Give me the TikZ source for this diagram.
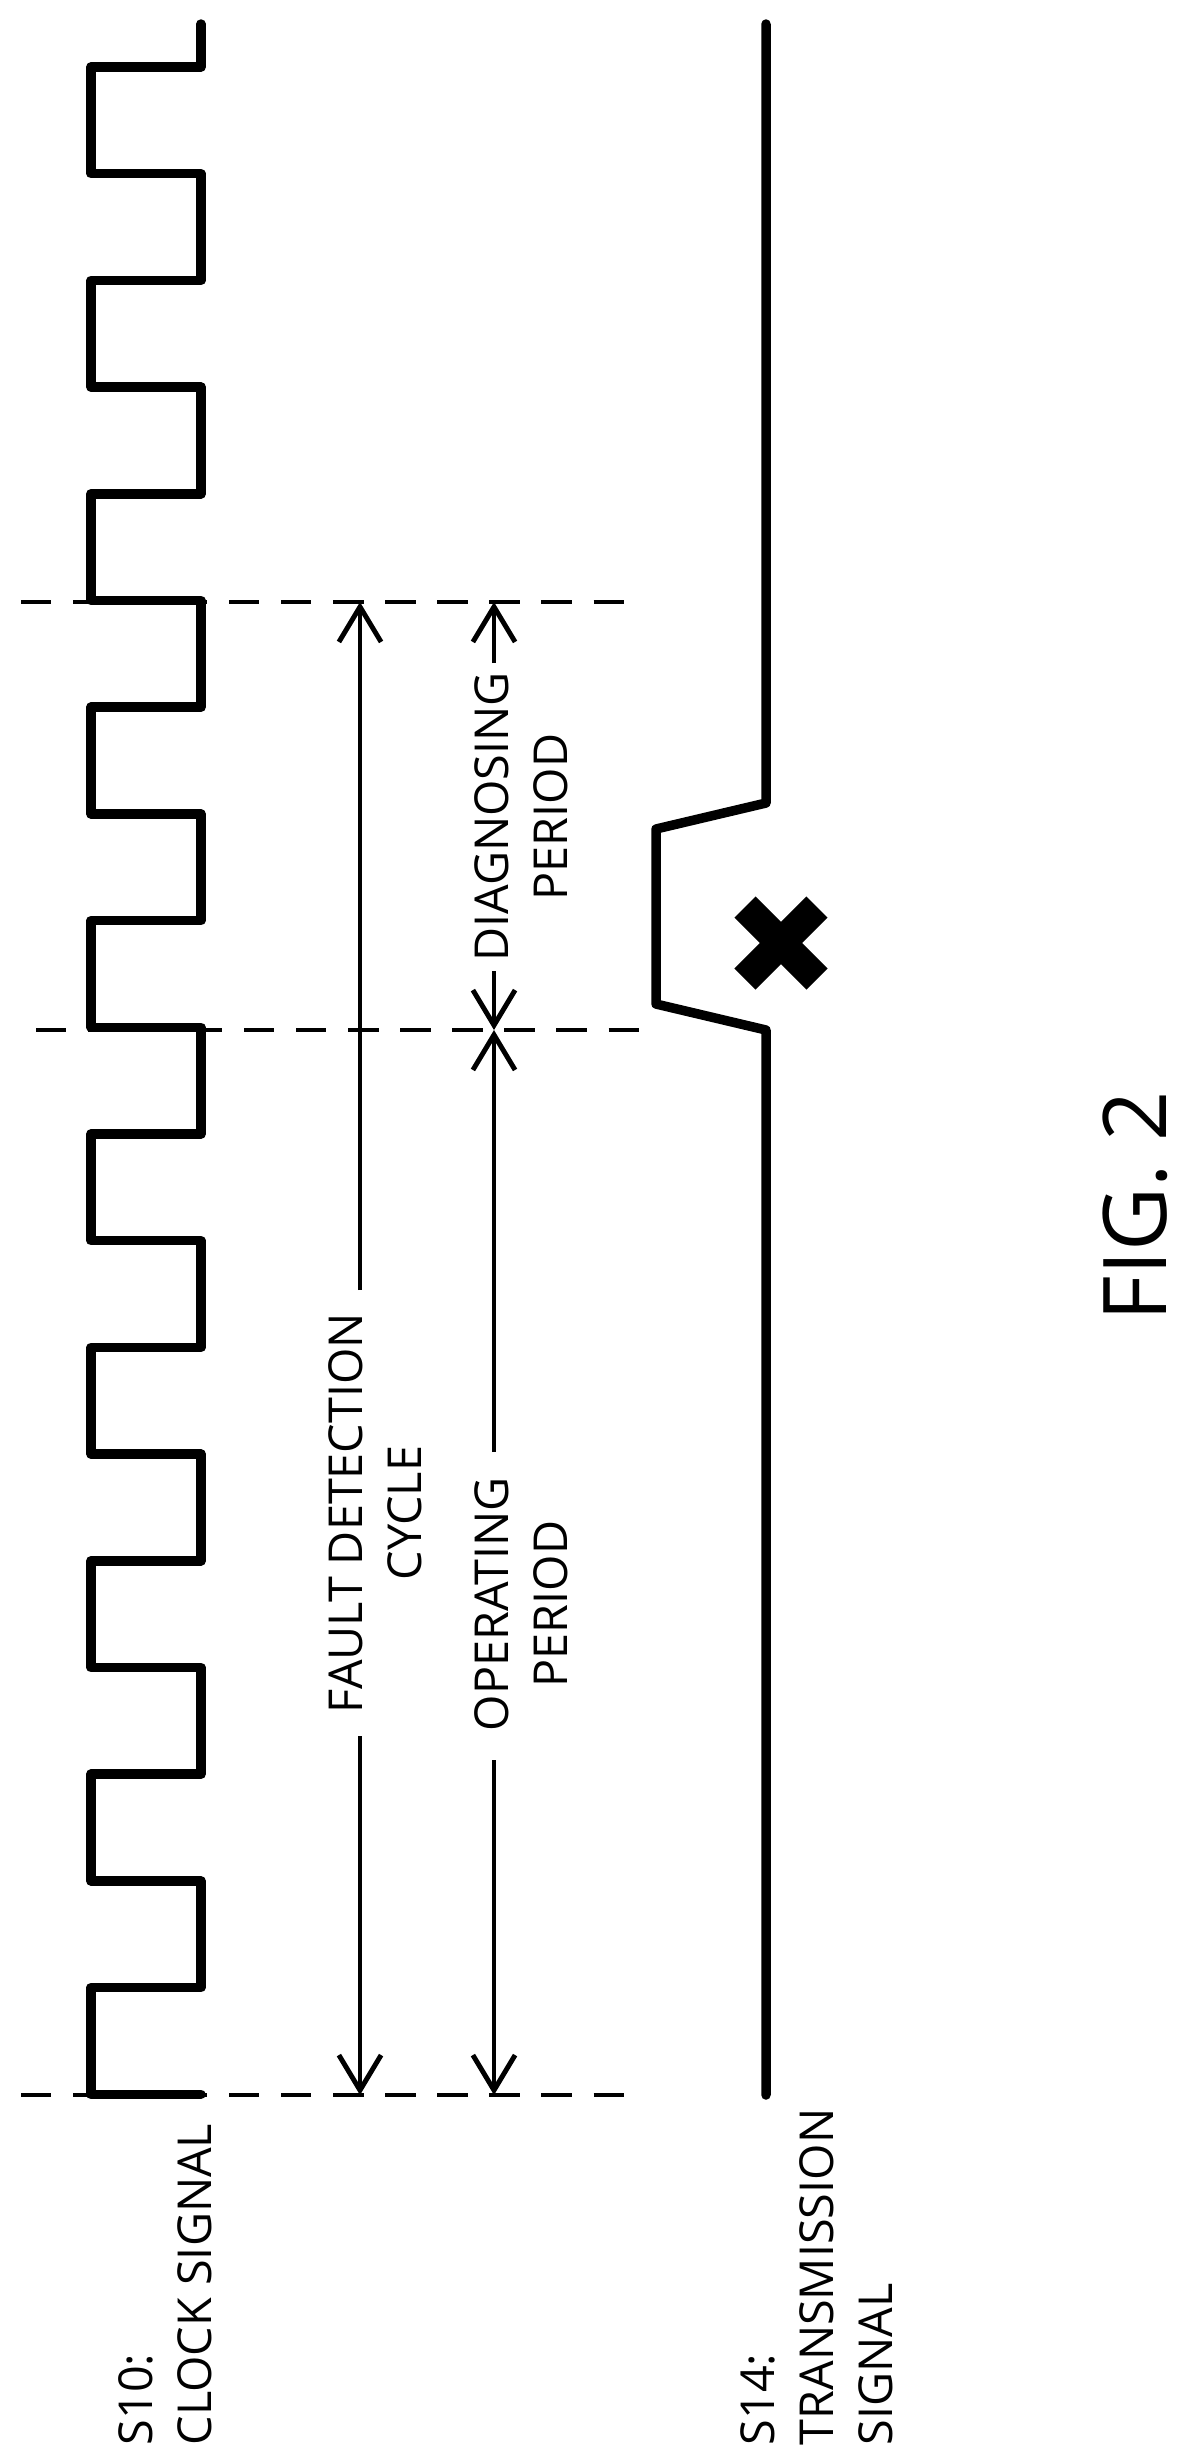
\documentclass[tikz,border=0pt]{standalone}
\usepackage{fontspec}
\setmainfont{Open Sans}
\usetikzlibrary{arrows.meta}
\tikzset{%
    sig/.style={line width = 2.7pt, line cap=round, line join=round},
    dsh/.style={line width = 1.4pt, dash pattern=on 8.6pt off 6.2pt},
    dim/.style={line width = 1.4pt},
    dma/.style={line width = 1.4pt, -{Straight Barb[length=10pt,width=12pt]}},
    lbl/.style={rotate=90, inner sep=0pt, font=\fontsize{13.3}{16.8}\selectfont}
}
\begin{document}
\begin{tikzpicture}[x=0.01cm,y=-0.01cm]
    \useasboundingbox (0,0) rectangle (1183,2462);
    % clock signal
    \draw [sig] (201,24) -- (201,67) foreach \k in {1,...,9}{ -- ++(-110,0) -- ++(0,106.7) -- ++(110,0) -- ++(0,106.7)} -- ++(-110,0) -- ++(0,106.7) -- ++(110,0);
    % transmission signal
    \draw [sig] (766,24) -- (766,803) -- (656,829) -- (656,1004) -- (766,1030) -- (766,2095);
    \draw [line width=8.5pt] (781,943) +(-36,-36) -- +(36,36) +(-36,36) -- +(36,-36);
    % dashed marks
    \coordinate (T) at (360,602);
    \coordinate (M) at (494,1030);
    \coordinate (B) at (360,2095);
    \draw [dsh] (21,602) -- (629,602);
    \draw [dsh] (36,1030) -- (644,1030);
    \draw [dsh] (21,2095) -- (629,2095);
    % labels
    \node [lbl,align=center] (fdc) at (375,1513) {FAULT DETECTION\\CYCLE};
    \node [lbl,align=center] (dp) at (521,817) {DIAGNOSING\\PERIOD};
    \node [lbl,align=center] (op) at (521,1604) {OPERATING\\PERIOD};
    \node [lbl,align=left,anchor=west] (clk) at (165,2446) {S10:\\CLOCK SIGNAL};
    \node [lbl,align=left,anchor=west] (trs) at (817,2446) {S14:\\TRANSMISSION\\SIGNAL};
    \node [rotate=90, inner sep=0pt, font=\fontsize{25}{30}\selectfont] (fig) at (1135,1206) {FIG. 2};
    % dimension arrows
    \draw [dma] (360,1290) -- (T);
    \draw [dma] (360,1736) -- (B);
    \draw [dma] (494,663) -- (494,602);
    \draw [dma] (494,971) -- (M);
    \draw [dma] (494,1452) -- (M);
    \draw [dma] (494,1760) -- (494,2095);
\end{tikzpicture}
\end{document}
